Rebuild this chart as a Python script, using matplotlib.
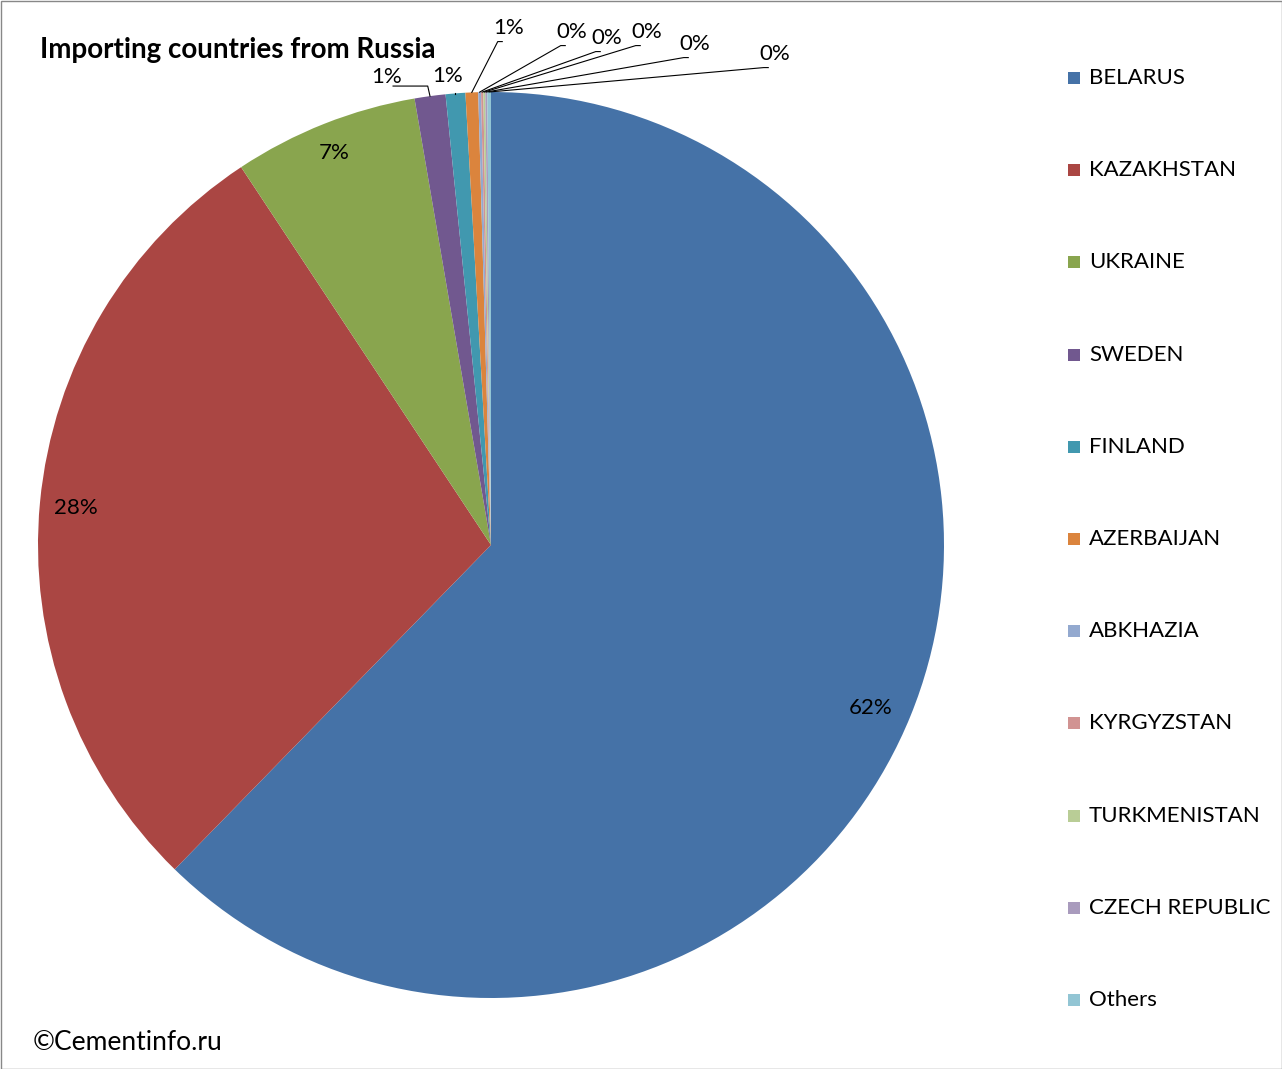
import matplotlib
matplotlib.use("Agg")
import matplotlib.pyplot as plt
import numpy as np

countries = ["BELARUS","KAZAKHSTAN","UKRAINE","SWEDEN","FINLAND","AZERBAIJAN",
             "ABKHAZIA","KYRGYZSTAN","TURKMENISTAN","CZECH REPUBLIC","Others"]
shares = [62.3, 28.4, 6.6, 1.1, 0.7, 0.45, 0.1, 0.08, 0.07, 0.07, 0.13]
labels = ["62%","28%","7%","1%","1%","1%","0%","0%","0%","0%","0%"]
colors = ["#4572A7","#AA4643","#89A54E","#71588F","#4198AF","#DB843D",
          "#93A9CF","#D19392","#B9CD96","#A99BBD","#92C5D4"]

W, H = 1282, 1069
fig = plt.figure(figsize=(W/100, H/100), dpi=100)
fig.patches.append(plt.Rectangle((0.5/W, 0.5/H), 1-1/W, 1-1/H, transform=fig.transFigure,
                                 fill=False, edgecolor="#888888", lw=1))
cx, cy, R = 491, 545, 453
ax = fig.add_axes([(cx-R)/W, (H-cy-R)/H, 2*R/W, 2*R/H])
wedges, _ = ax.pie(shares, colors=colors, startangle=90, counterclock=False, radius=1,
                   wedgeprops=dict(linewidth=0))
ax.set_xlim(-1, 1); ax.set_ylim(-1, 1); ax.axis("off"); ax.set_aspect("auto")
font = "Lato"
fs = 16
def d(px, py):
    return ((px-cx)/R, (cy-py)/R)
inner = {0: (871, 708), 1: (76, 508), 2: (334, 153)}
for i, (px, py) in inner.items():
    x, y = d(px, py)
    ax.text(x, y, labels[i], ha="center", va="center", fontsize=fs, family=font)
outer = {3: (384, 77), 4: (448, 76), 5: (500, 28), 6: (563, 32), 7: (598, 38),
         8: (638, 32), 9: (686, 44), 10: (766, 54)}
for i, (px, py) in outer.items():
    w = wedges[i]
    a = np.deg2rad((w.theta1 + w.theta2)/2)
    ex, ey = np.cos(a), np.sin(a)
    x, y = d(px, py)
    if i == 3:
        ax.plot([ex, ex-0.005, x+0.02], [ey, y-0.02, y-0.02], color="black", lw=0.8, clip_on=False)
        ax.text(*d(402, 77), labels[i], ha="right", va="center", fontsize=fs, family=font, clip_on=False)
        continue
    if i == 4:
        ax.plot([ex, ex], [ey, y-0.04], color="black", lw=0.8, clip_on=False)
        ax.text(x, y, labels[i], ha="center", va="center", fontsize=fs, family=font, clip_on=False)
        continue
    ax.plot([ex, x-0.005, x+0.005], [ey, y-0.03, y-0.03], color="black", lw=0.8, clip_on=False)
    ax.text(x - 0.015, y, labels[i], ha="left", va="center", fontsize=fs, family=font, clip_on=False)

fig.text(40/W, 1-50/H, "Importing countries from Russia", fontsize=20, fontweight="bold",
         family=font, va="center")
fig.text(33/W, 1-1043/H, "©Cementinfo.ru", fontsize=19, family=font, va="center")
for k, (name, c) in enumerate(zip(countries, colors)):
    y = 78 + k*92.2
    fig.patches.append(plt.Rectangle((1068/W, 1-(y+6)/H), 12/W, 12/H, transform=fig.transFigure,
                                     facecolor=c, edgecolor="none"))
    fig.text(1089/W, 1-y/H, name, fontsize=fs, family=font, va="center")
fig.savefig("out.png", dpi=100)
